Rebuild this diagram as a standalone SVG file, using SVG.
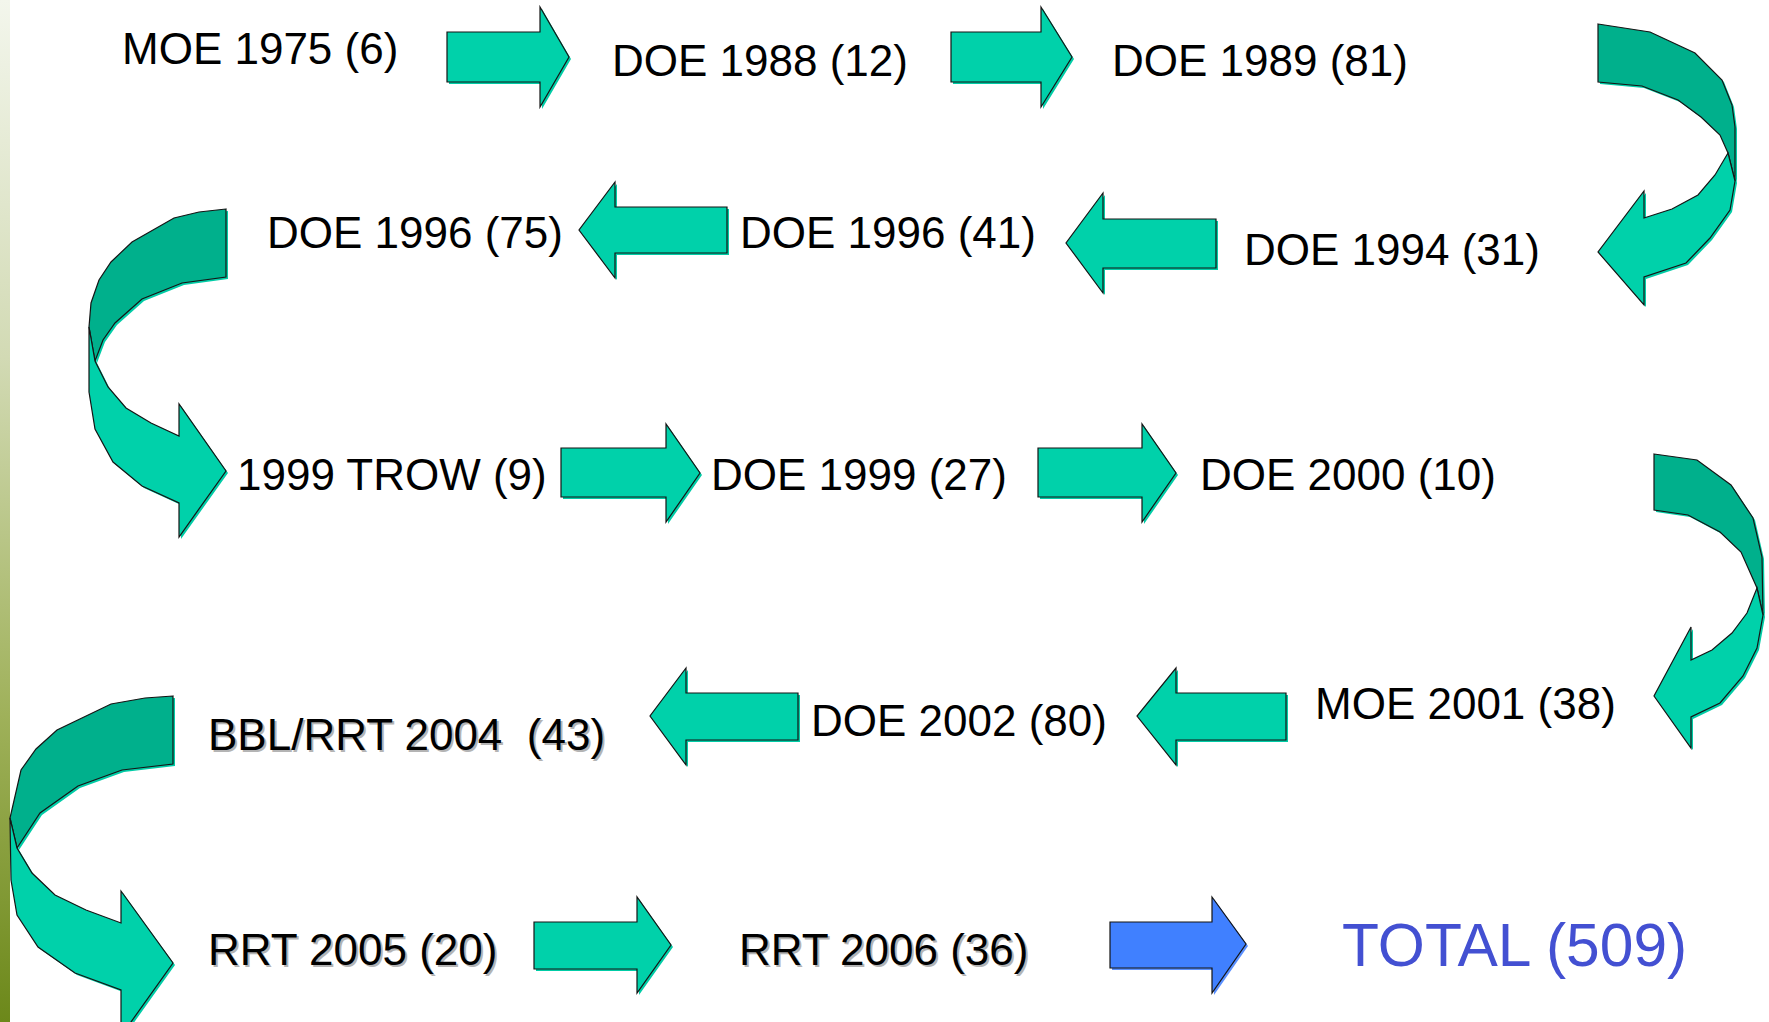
<svg xmlns="http://www.w3.org/2000/svg" xmlns:xlink="http://www.w3.org/1999/xlink" width="1769" height="1022" viewBox="0 0 1769 1022">
<style>
.lbl{font-family:"Liberation Sans",Arial,sans-serif;font-size:44px;fill:#000}
.tsh{fill:#b4b4b4}
.total{font-family:"Liberation Sans",Arial,sans-serif;font-size:60.5px;fill:#4350D2}
.sh{fill:#00CCA6;stroke:none}
.main{fill:#00D1AA;stroke:#151515;stroke-width:1.2;stroke-linejoin:miter}
.dark{fill:#00B08C;stroke:#151515;stroke-width:1.2}
.blue{fill:#4080FF;stroke:#151515;stroke-width:1.2}
.bsh{fill:#5a90ff;stroke:none}
</style>
<defs>
<linearGradient id="strip" x1="0" y1="0" x2="0" y2="1">
<stop offset="0" stop-color="#f3f6ec"/>
<stop offset="0.35" stop-color="#d2dab4"/>
<stop offset="0.7" stop-color="#9fb15a"/>
<stop offset="1" stop-color="#6c881a"/>
</linearGradient>
<polygon id="a1" points="447,32 540,32 540,7 569,57 540,107 540,82 447,82"/>
<polygon id="a2" points="951,32 1041,32 1041,7 1072,57 1041,107 1041,82 951,82"/>
<polygon id="l1" points="727,207 615,207 615,182 579,230 615,278 615,253 727,253"/>
<polygon id="l2" points="1216,219 1103,219 1103,193 1066,243 1103,293 1103,268 1216,268"/>
<polygon id="r3" points="561,448 666,448 666,424 700,473 666,522 666,497 561,497"/>
<polygon id="r4" points="1038,448 1142,448 1142,424 1176,473 1142,522 1142,497 1038,497"/>
<polygon id="l3" points="1286,693 1176,693 1176,668 1137,716 1176,765 1176,740 1286,740"/>
<polygon id="l4" points="798,693 686,693 686,668 650,716 686,765 686,740 798,740"/>
<polygon id="r5" points="534,922 637,922 637,897 671,945 637,993 637,969 534,969"/>
<polygon id="b1" points="1110,922 1212,922 1212,897 1246,944 1212,993 1212,968 1110,968"/>
<polygon id="c1d" points="1598,24 1650,32 1695,53 1722,80 1732,105 1735,127 1735,181 1728,153 1720,135 1701,117 1678,100 1642,86 1598,82"/>
<polygon id="c1l" points="1728,153 1735,181 1730,210 1710,238 1686,263 1644,277 1644,305 1598,252 1644,191 1644,218 1672,209 1698,195 1715,175"/>
<polygon id="c2d" points="226,209 199,212 174,218 132,242 111,262 99,280 91,303 89,327 95,361 103,340 115,323 142,299 182,283 226,277"/>
<polygon id="c2l" points="89,327 89,392 95,429 113,462 142,486 179,503 179,537 226,471 179,404 179,436 151,423 126,408 108,387 95,361"/>
<polygon id="c3d" points="1654,454 1697,460 1731,485 1753,518 1762,557 1763,615 1757,588 1741,552 1720,532 1688,515 1654,510"/>
<polygon id="c3l" points="1757,588 1763,615 1757,648 1743,676 1720,703 1691,717 1691,748 1654,696 1691,627 1691,660 1712,650 1732,633 1747,613"/>
<polygon id="c4d" points="173,696 145,698 111,704 57,730 36,749 21,770 10,818 17,848 40,813 78,786 122,770 173,764"/>
<polygon id="c4l" points="10,818 11,880 17,915 38,947 75,973 121,990 121,1036 173,963 121,891 121,923 86,910 55,895 32,873 17,848"/>
</defs>
<rect x="0" y="0" width="1769" height="1022" fill="#ffffff"/>
<rect x="0" y="0" width="10" height="1022" fill="url(#strip)"/>
<g id="connectors">
<g id="arrow-1975-1988"><use xlink:href="#a1" class="sh" transform="translate(2,2)"/><use xlink:href="#a1" class="main"/></g>
<g id="arrow-1988-1989"><use xlink:href="#a2" class="sh" transform="translate(2,2)"/><use xlink:href="#a2" class="main"/></g>
<g id="arrow-1989-1994"><use xlink:href="#c1d" class="sh" transform="translate(2,2)"/><use xlink:href="#c1l" class="sh" transform="translate(2,2)"/><use xlink:href="#c1d" class="dark"/><use xlink:href="#c1l" class="main"/></g>
<g id="arrow-1994-1996b"><use xlink:href="#l2" class="sh" transform="translate(2,2)"/><use xlink:href="#l2" class="main"/></g>
<g id="arrow-1996b-1996a"><use xlink:href="#l1" class="sh" transform="translate(2,2)"/><use xlink:href="#l1" class="main"/></g>
<g id="arrow-1996a-trow"><use xlink:href="#c2d" class="sh" transform="translate(2,2)"/><use xlink:href="#c2l" class="sh" transform="translate(2,2)"/><use xlink:href="#c2d" class="dark"/><use xlink:href="#c2l" class="main"/></g>
<g id="arrow-trow-1999"><use xlink:href="#r3" class="sh" transform="translate(2,2)"/><use xlink:href="#r3" class="main"/></g>
<g id="arrow-1999-2000"><use xlink:href="#r4" class="sh" transform="translate(2,2)"/><use xlink:href="#r4" class="main"/></g>
<g id="arrow-2000-2001"><use xlink:href="#c3d" class="sh" transform="translate(2,2)"/><use xlink:href="#c3l" class="sh" transform="translate(2,2)"/><use xlink:href="#c3d" class="dark"/><use xlink:href="#c3l" class="main"/></g>
<g id="arrow-2001-2002"><use xlink:href="#l3" class="sh" transform="translate(2,2)"/><use xlink:href="#l3" class="main"/></g>
<g id="arrow-2002-2004"><use xlink:href="#l4" class="sh" transform="translate(2,2)"/><use xlink:href="#l4" class="main"/></g>
<g id="arrow-2004-2005"><use xlink:href="#c4d" class="sh" transform="translate(2,2)"/><use xlink:href="#c4l" class="sh" transform="translate(2,2)"/><use xlink:href="#c4d" class="dark"/><use xlink:href="#c4l" class="main"/></g>
<g id="arrow-2005-2006"><use xlink:href="#r5" class="sh" transform="translate(2,2)"/><use xlink:href="#r5" class="main"/></g>
<g id="arrow-2006-total"><use xlink:href="#b1" class="bsh" transform="translate(2,2)"/><use xlink:href="#b1" class="blue"/></g>
</g>
<g id="n-moe1975"><text class="lbl" x="122" y="64">MOE 1975 (6)</text></g>
<g id="n-doe1988"><text class="lbl" x="612" y="76">DOE 1988 (12)</text></g>
<g id="n-doe1989"><text class="lbl" x="1112" y="76">DOE 1989 (81)</text></g>
<g id="n-doe1994"><text class="lbl" x="1244" y="265">DOE 1994 (31)</text></g>
<g id="n-doe1996b"><text class="lbl" x="740" y="248">DOE 1996 (41)</text></g>
<g id="n-doe1996a"><text class="lbl" x="267" y="248">DOE 1996 (75)</text></g>
<g id="n-trow1999"><text class="lbl" x="237" y="490">1999 TROW (9)</text></g>
<g id="n-doe1999"><text class="lbl" x="711" y="490">DOE 1999 (27)</text></g>
<g id="n-doe2000"><text class="lbl" x="1200" y="490">DOE 2000 (10)</text></g>
<g id="n-moe2001"><text class="lbl" x="1315" y="719">MOE 2001 (38)</text></g>
<g id="n-doe2002"><text class="lbl" x="811" y="736">DOE 2002 (80)</text></g>
<g id="n-bbl2004"><text class="lbl tsh" x="210" y="752">BBL/RRT 2004&#160; (43)</text><text class="lbl" x="208" y="750">BBL/RRT 2004&#160; (43)</text></g>
<g id="n-rrt2005"><text class="lbl tsh" x="210" y="967">RRT 2005 (20)</text><text class="lbl" x="208" y="965">RRT 2005 (20)</text></g>
<g id="n-rrt2006"><text class="lbl tsh" x="741" y="967">RRT 2006 (36)</text><text class="lbl" x="739" y="965">RRT 2006 (36)</text></g>
<g id="n-total"><text class="total" x="1342" y="966">TOTAL (509)</text></g>
</svg>
